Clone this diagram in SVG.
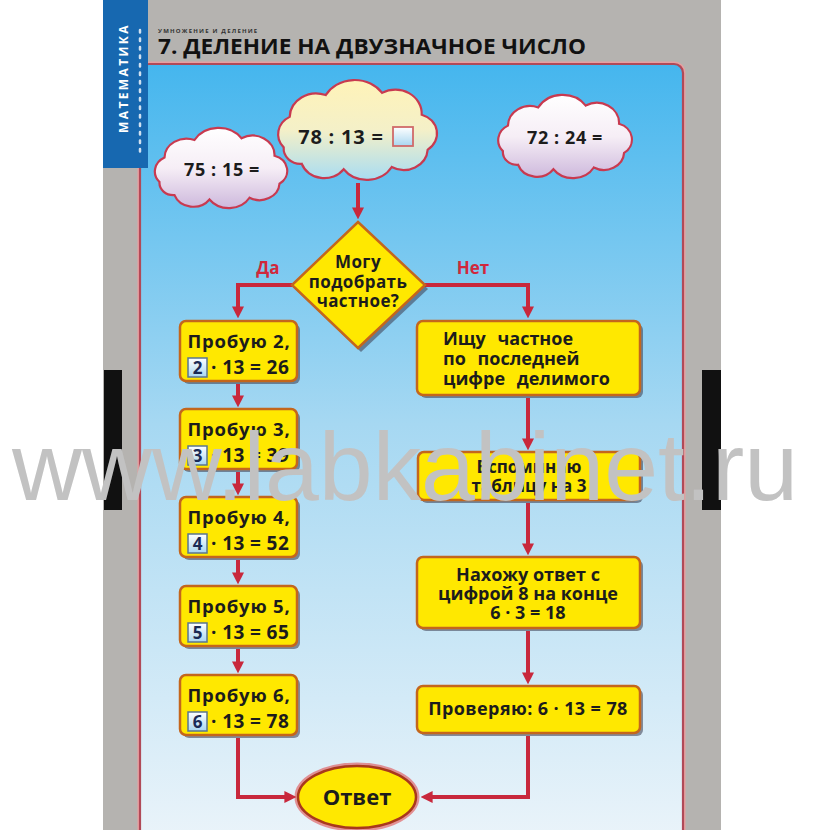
<svg xmlns="http://www.w3.org/2000/svg" width="830" height="830" viewBox="0 0 830 830">
<defs>
<style>
.t{font-family:"Open Sans","Liberation Sans",sans-serif;font-weight:700;fill:#1c1c1c}
.bt{font-size:18.5px;letter-spacing:0.8px}
.bn{font-size:19px;letter-spacing:0.4px}
.box{fill:#ffe800;stroke:#c4661c;stroke-width:2.5}
.sh{fill:#3a3a4c;opacity:.55}
.conn{fill:none;stroke:#c8283c;stroke-width:4;stroke-linejoin:miter}
.cloud{stroke:#c83a50;stroke-width:2.2}
.nb{fill:url(#nbg);stroke:#5a7590;stroke-width:1.5}
.lbl{font-family:"Open Sans","Liberation Sans",sans-serif;font-weight:700;fill:#d0283c;font-size:17px}
</style>
<linearGradient id="sky" x1="0" y1="0" x2="0" y2="1">
<stop offset="0" stop-color="#45b6ee"/>
<stop offset="0.45" stop-color="#a6d8f2"/>
<stop offset="1" stop-color="#eef5fa"/>
</linearGradient>
<linearGradient id="cw" x1="0" y1="0" x2="0" y2="1">
<stop offset="0" stop-color="#ffffff"/>
<stop offset="0.5" stop-color="#f6eef6"/>
<stop offset="1" stop-color="#cdb8dc"/>
</linearGradient>
<linearGradient id="cy" x1="0" y1="0" x2="0" y2="1">
<stop offset="0" stop-color="#fff3b8"/>
<stop offset="0.5" stop-color="#f4f0c8"/>
<stop offset="1" stop-color="#a8dcf2"/>
</linearGradient>
<linearGradient id="nbg" x1="0" y1="0" x2="0" y2="1">
<stop offset="0" stop-color="#ffffff"/>
<stop offset="1" stop-color="#a8d6f0"/>
</linearGradient>
<marker id="ah" viewBox="0 0 10 10" refX="3" refY="5" markerWidth="12" markerHeight="12" markerUnits="userSpaceOnUse" orient="auto">
<path d="M0 0 L10 5 L0 10 Z" fill="#c8283c"/>
</marker>
</defs>

<rect x="0" y="0" width="830" height="830" fill="#ffffff"/>
<rect x="103" y="0" width="618" height="830" fill="#b5b3b0"/>
<rect x="104" y="370" width="18" height="140" fill="#111111"/>
<rect x="702" y="370" width="19" height="140" fill="#111111"/>

<!-- panel -->
<rect x="140" y="64" width="543" height="800" rx="9" fill="none" stroke="#e8a0a0" stroke-width="5"/>
<rect x="140" y="64" width="543" height="800" rx="9" fill="url(#sky)" stroke="#b04a58" stroke-width="2.2"/>

<!-- side stripe -->
<rect x="103" y="0" width="45" height="168" fill="#1768b0"/>
<text class="t" transform="translate(128 78) rotate(-90)" text-anchor="middle" font-size="12" letter-spacing="2.4" style="fill:#ffffff">МАТЕМАТИКА</text>
<line x1="140" y1="30" x2="140" y2="156" stroke="#cfe0f0" stroke-width="2.5" stroke-dasharray="2.5 6" stroke-linecap="round"/>

<!-- title -->
<text class="t" x="158" y="33" font-size="6" letter-spacing="1.2" style="fill:#333">УМНОЖЕНИЕ И ДЕЛЕНИЕ</text>
<text class="t" x="158" y="54" font-size="22" textLength="428" lengthAdjust="spacingAndGlyphs" style="fill:#111">7. ДЕЛЕНИЕ НА ДВУЗНАЧНОЕ ЧИСЛО</text>

<!-- clouds -->
<g id="cloud1">
<path d="M-60 20 A18 18 0 0 1 -55 -8 A22 22 0 0 1 -25 -28 A28 28 0 0 1 22 -30 A22 22 0 0 1 55 -10 A18 18 0 0 1 60 22 A20 20 0 0 1 30 38 A24 24 0 0 1 -10 40 A20 20 0 0 1 -45 35 A14 14 0 0 1 -60 20 Z" class="cloud" fill="url(#cw)" vector-effect="non-scaling-stroke" transform="translate(219.5 164.5) scale(1.0 0.875)"/>
<text class="t" x="222" y="176" font-size="18" letter-spacing="0.6" text-anchor="middle">75 : 15 =</text>
</g>
<g id="cloud2">
<path d="M-60 20 A18 18 0 0 1 -55 -8 A22 22 0 0 1 -25 -28 A28 28 0 0 1 22 -30 A22 22 0 0 1 55 -10 A18 18 0 0 1 60 22 A20 20 0 0 1 30 38 A24 24 0 0 1 -10 40 A20 20 0 0 1 -45 35 A14 14 0 0 1 -60 20 Z" class="cloud" fill="url(#cy)" vector-effect="non-scaling-stroke" transform="translate(355.7 125.6) scale(1.2 1.09)"/>
<text class="t" x="341" y="144" font-size="20" letter-spacing="0.8" text-anchor="middle">78 : 13 =</text>
<rect x="393" y="127" width="20" height="19" fill="url(#nbg)" stroke="#d06a6a" stroke-width="1.8"/>
</g>
<g id="cloud3">
<path d="M-60 20 A18 18 0 0 1 -55 -8 A22 22 0 0 1 -25 -28 A28 28 0 0 1 22 -30 A22 22 0 0 1 55 -10 A18 18 0 0 1 60 22 A20 20 0 0 1 30 38 A24 24 0 0 1 -10 40 A20 20 0 0 1 -45 35 A14 14 0 0 1 -60 20 Z" class="cloud" fill="url(#cw)" vector-effect="non-scaling-stroke" transform="translate(563.5 132.9) scale(1.01 0.91)"/>
<text class="t" x="565" y="144" font-size="18" letter-spacing="0.6" text-anchor="middle">72 : 24 =</text>
</g>

<!-- connectors -->
<g id="connectors">
<path class="conn" d="M358 183 V211" marker-end="url(#ah)"/>
<path class="conn" d="M292 285 H238 V310" marker-end="url(#ah)"/>
<path class="conn" d="M425 285 H528 V310" marker-end="url(#ah)"/>
<path class="conn" d="M238 384 V399" marker-end="url(#ah)"/>
<path class="conn" d="M238 472 V487" marker-end="url(#ah)"/>
<path class="conn" d="M238 560 V576" marker-end="url(#ah)"/>
<path class="conn" d="M238 649 V665" marker-end="url(#ah)"/>
<path class="conn" d="M528 398 V442" marker-end="url(#ah)"/>
<path class="conn" d="M528 503 V547" marker-end="url(#ah)"/>
<path class="conn" d="M528 631 V676" marker-end="url(#ah)"/>
<path class="conn" d="M238 738 V797 H288" marker-end="url(#ah)"/>
<path class="conn" d="M528 736 V797 H429" marker-end="url(#ah)"/>
</g>
<text class="lbl" x="268" y="274" text-anchor="middle">Да</text>
<text class="lbl" x="473" y="274" text-anchor="middle">Нет</text>

<!-- diamond -->
<g id="decision">
<polygon points="361,226 428,289 361,352 295,289" class="sh"/>
<polygon points="358,222 425,285 358,348 292,285" class="box"/>
<text class="t" x="358" y="268" font-size="17" letter-spacing="0.4" text-anchor="middle">Могу</text>
<text class="t" x="358" y="288" font-size="17" letter-spacing="0.4" text-anchor="middle">подобрать</text>
<text class="t" x="358" y="307" font-size="17" letter-spacing="0.4" text-anchor="middle">частное?</text>
</g>

<!-- left column -->
<g id="try2">
<rect x="183" y="324" width="117" height="60" rx="6" class="sh"/>
<rect x="180" y="321" width="117" height="60" rx="6" class="box"/>
<text class="t bt" x="239" y="348" text-anchor="middle">Пробую 2,</text>
<rect x="188" y="358" width="19" height="19" class="nb"/>
<text class="t" x="197.5" y="374" font-size="17" text-anchor="middle" style="fill:#1a2a55">2</text>
<text class="t bn" x="211" y="374">· 13 = 26</text>
</g>
<g id="try3">
<rect x="183" y="412" width="117" height="60" rx="6" class="sh"/>
<rect x="180" y="409" width="117" height="60" rx="6" class="box"/>
<text class="t bt" x="239" y="436" text-anchor="middle">Пробую 3,</text>
<rect x="188" y="446" width="19" height="19" class="nb"/>
<text class="t" x="197.5" y="462" font-size="17" text-anchor="middle" style="fill:#1a2a55">3</text>
<text class="t bn" x="211" y="462">· 13 = 39</text>
</g>
<g id="try4">
<rect x="183" y="500" width="117" height="60" rx="6" class="sh"/>
<rect x="180" y="497" width="117" height="60" rx="6" class="box"/>
<text class="t bt" x="239" y="524" text-anchor="middle">Пробую 4,</text>
<rect x="188" y="534" width="19" height="19" class="nb"/>
<text class="t" x="197.5" y="550" font-size="17" text-anchor="middle" style="fill:#1a2a55">4</text>
<text class="t bn" x="211" y="550">· 13 = 52</text>
</g>
<g id="try5">
<rect x="183" y="589" width="117" height="60" rx="6" class="sh"/>
<rect x="180" y="586" width="117" height="60" rx="6" class="box"/>
<text class="t bt" x="239" y="613" text-anchor="middle">Пробую 5,</text>
<rect x="188" y="623" width="19" height="19" class="nb"/>
<text class="t" x="197.5" y="639" font-size="17" text-anchor="middle" style="fill:#1a2a55">5</text>
<text class="t bn" x="211" y="639">· 13 = 65</text>
</g>
<g id="try6">
<rect x="183" y="678" width="117" height="60" rx="6" class="sh"/>
<rect x="180" y="675" width="117" height="60" rx="6" class="box"/>
<text class="t bt" x="239" y="702" text-anchor="middle">Пробую 6,</text>
<rect x="188" y="712" width="19" height="19" class="nb"/>
<text class="t" x="197.5" y="728" font-size="17" text-anchor="middle" style="fill:#1a2a55">6</text>
<text class="t bn" x="211" y="728">· 13 = 78</text>
</g>

<!-- right column -->
<g id="find">
<rect x="420" y="324" width="223" height="74" rx="6" class="sh"/>
<rect x="417" y="321" width="223" height="74" rx="6" class="box"/>
<text class="t" x="443" y="345" font-size="18" word-spacing="7">Ищу частное</text>
<text class="t" x="443" y="365" font-size="18" word-spacing="7">по последней</text>
<text class="t" x="443" y="385" font-size="18" word-spacing="7">цифре делимого</text>
</g>
<g id="recall">
<rect x="421" y="455" width="222" height="48" rx="6" class="sh"/>
<rect x="418" y="452" width="222" height="48" rx="6" class="box"/>
<text class="t" x="529" y="473" font-size="17" text-anchor="middle">Вспоминаю</text>
<text class="t" x="529" y="492" font-size="17" text-anchor="middle">таблицу на 3</text>
</g>
<g id="findans">
<rect x="420" y="560" width="223" height="71" rx="6" class="sh"/>
<rect x="417" y="557" width="223" height="71" rx="6" class="box"/>
<text class="t" x="528" y="581" font-size="18" text-anchor="middle">Нахожу ответ с</text>
<text class="t" x="528" y="600" font-size="18" text-anchor="middle">цифрой 8 на конце</text>
<text class="t" x="528" y="619" font-size="18" text-anchor="middle">6 · 3 = 18</text>
</g>
<g id="check">
<rect x="420" y="689" width="223" height="47" rx="6" class="sh"/>
<rect x="417" y="686" width="223" height="47" rx="6" class="box"/>
<text class="t" x="528" y="715" font-size="18" letter-spacing="0.4" text-anchor="middle">Проверяю: 6 · 13 = 78</text>
</g>

<!-- answer -->
<g id="answer">
<ellipse cx="357" cy="797" rx="61" ry="33" fill="none" stroke="#e03030" stroke-width="3" opacity="0.5"/>
<ellipse cx="357" cy="797" rx="59" ry="31" fill="#ffe800" stroke="#a8381c" stroke-width="2.5"/>
<text class="t" x="357" y="805" font-size="22" text-anchor="middle">Ответ</text>
</g>

<!-- watermark -->
<text x="12" y="500" font-family="Liberation Sans, Arial, sans-serif" font-size="96" textLength="786" lengthAdjust="spacingAndGlyphs" fill="#c2c2c2">www.labkabinet.ru</text>
</svg>
